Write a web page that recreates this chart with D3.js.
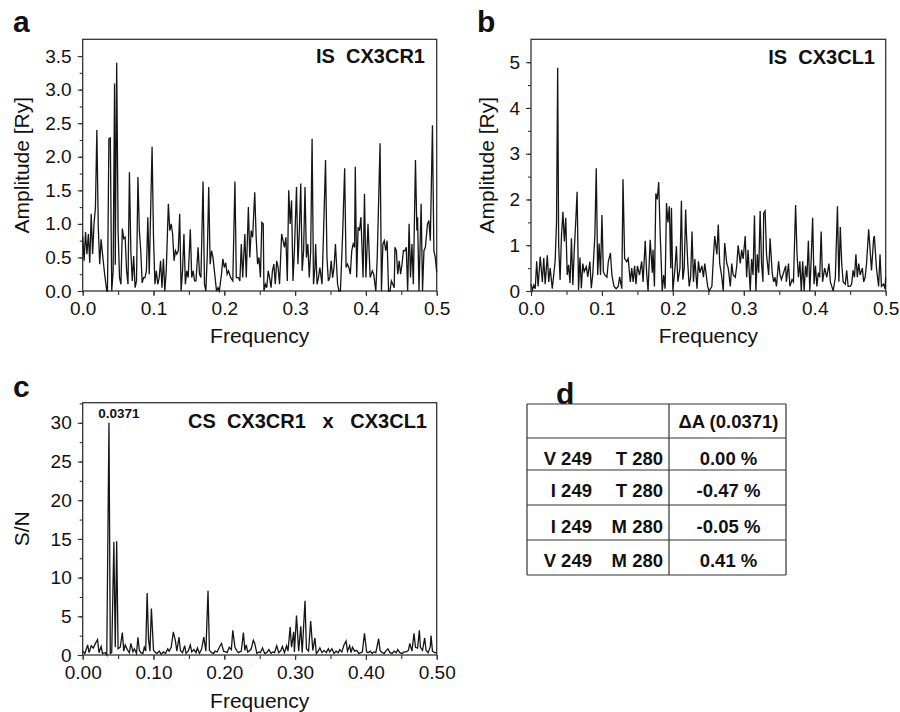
<!DOCTYPE html>
<html>
<head>
<meta charset="utf-8">
<script src="https://cdn.jsdelivr.net/npm/d3@7"></script>
<style>
  body { margin: 0; background: #fff; }
  text { font-family: "Liberation Sans", Arial, sans-serif; fill: #111; }
</style>
</head>
<body>
<script>
// panel a: IS CX3CR1 (frequency, amplitude)
var freqA = [
  0.000,0.002,0.004,0.006,0.008,0.010,0.012,0.014,0.016,0.018,
  0.020,0.022,0.024,0.026,0.028,0.031,0.034,0.035,0.037,0.039,
  0.041,0.043,0.045,0.046,0.048,0.050,0.052,0.054,0.056,0.058,
  0.060,0.062,0.064,0.066,0.068,0.070,0.072,0.074,0.076,0.078,
  0.080,0.082,0.084,0.086,0.088,0.090,0.092,0.094,0.096,0.098,
  0.100,0.102,0.104,0.106,0.108,0.110,0.112,0.114,0.116,0.118,
  0.121,0.123,0.125,0.127,0.129,0.131,0.133,0.135,0.137,0.139,
  0.141,0.143,0.145,0.147,0.149,0.152,0.154,0.156,0.158,0.160,
  0.163,0.165,0.167,0.170,0.172,0.174,0.176,0.178,0.180,0.182,
  0.184,0.186,0.189,0.191,0.193,0.196,0.198,0.200,0.202,0.204,
  0.206,0.209,0.212,0.215,0.217,0.220,0.222,0.224,0.226,0.229,
  0.231,0.234,0.236,0.238,0.240,0.243,0.245,0.247,0.249,0.251,
  0.253,0.255,0.256,0.258,0.260,0.262,0.264,0.266,0.268,0.270,
  0.272,0.274,0.276,0.278,0.281,0.283,0.285,0.287,0.289,0.291,
  0.293,0.295,0.297,0.299,0.302,0.304,0.306,0.308,0.310,0.312,
  0.314,0.316,0.318,0.320,0.322,0.324,0.326,0.328,0.329,0.331,
  0.333,0.335,0.338,0.340,0.343,0.345,0.347,0.349,0.351,0.353,
  0.355,0.357,0.360,0.362,0.364,0.367,0.370,0.372,0.374,0.376,
  0.378,0.380,0.382,0.384,0.385,0.387,0.389,0.391,0.393,0.396,
  0.398,0.400,0.403,0.406,0.409,0.411,0.414,0.416,0.420,0.422,
  0.424,0.426,0.428,0.430,0.432,0.434,0.436,0.438,0.440,0.441,
  0.443,0.445,0.447,0.449,0.451,0.453,0.455,0.457,0.459,0.461,
  0.463,0.465,0.467,0.470,0.472,0.473,0.475,0.478,0.480,0.482,
  0.484,0.487,0.489,0.491,0.494,0.496,0.498,0.500
];
var ampA = [
  0.81,0.45,0.88,0.55,0.85,0.42,1.15,0.55,1.00,1.25,
  2.40,0.95,0.40,0.77,0.55,0.25,0.00,0.00,2.27,2.28,
  0.00,0.30,3.09,0.39,3.40,0.90,0.20,0.10,0.93,0.78,
  0.80,0.30,0.10,1.77,0.60,0.15,0.52,0.05,0.15,1.70,
  0.90,0.60,0.12,0.20,0.20,0.30,1.10,0.25,1.20,2.15,
  0.80,0.10,0.30,0.10,0.20,0.45,0.05,0.48,0.00,0.30,
  1.30,0.90,1.00,0.85,0.45,0.60,0.55,0.60,1.15,0.00,
  0.30,0.85,0.10,0.30,0.20,0.92,0.20,0.30,0.15,0.15,
  0.65,0.25,0.20,1.63,0.10,0.00,0.55,1.55,0.40,0.60,
  0.50,0.30,0.00,0.05,0.00,0.25,0.48,0.35,0.42,0.25,
  0.30,0.20,0.15,1.63,0.20,0.20,0.15,0.70,0.20,0.85,
  0.20,1.25,0.50,0.90,0.80,1.47,0.80,0.40,0.50,0.20,
  1.02,1.00,0.00,0.10,0.05,0.30,0.20,0.05,0.30,0.40,
  0.10,0.45,0.35,0.10,0.85,0.75,0.65,0.80,0.15,1.50,
  1.00,1.35,0.15,0.60,1.55,0.40,0.90,1.60,0.30,0.60,
  1.55,0.50,0.70,0.20,0.60,2.27,0.10,0.35,0.70,0.10,
  0.20,0.35,0.10,0.80,1.95,0.50,0.15,0.20,0.45,0.20,
  0.35,0.70,0.10,0.00,0.00,0.80,1.83,0.35,0.40,0.35,
  0.25,0.60,0.70,0.65,1.85,0.20,0.95,0.90,1.10,0.20,
  1.45,0.20,1.00,0.20,0.30,0.25,0.00,0.50,2.20,0.00,
  0.70,0.75,0.60,0.75,0.00,0.00,0.15,0.10,0.05,0.65,
  0.60,0.25,0.45,0.25,0.40,0.60,0.60,0.65,0.00,1.00,
  0.20,0.70,0.10,1.95,0.90,1.10,0.00,1.30,0.00,0.60,
  0.65,1.00,1.05,0.75,2.47,0.60,0.50,0.28
];

// panel b: IS CX3CL1
var freqB = [
  0.000,0.002,0.004,0.006,0.008,0.010,0.013,0.016,0.018,0.020,
  0.023,0.025,0.027,0.030,0.032,0.034,0.036,0.0376,0.039,0.041,
  0.043,0.045,0.047,0.049,0.051,0.053,0.055,0.057,0.059,0.061,
  0.063,0.065,0.067,0.069,0.071,0.073,0.075,0.078,0.080,0.083,
  0.085,0.087,0.090,0.092,0.094,0.096,0.098,0.100,0.102,0.104,
  0.107,0.109,0.112,0.114,0.117,0.120,0.123,0.125,0.128,0.1297,
  0.132,0.135,0.137,0.140,0.142,0.144,0.146,0.148,0.150,0.153,
  0.156,0.158,0.161,0.163,0.165,0.168,0.171,0.172,0.174,0.176,
  0.178,0.180,0.182,0.185,0.187,0.189,0.191,0.193,0.195,0.197,
  0.198,0.200,0.203,0.205,0.207,0.210,0.212,0.214,0.216,0.218,
  0.219,0.221,0.223,0.225,0.227,0.229,0.231,0.234,0.236,0.238,
  0.241,0.243,0.245,0.249,0.251,0.255,0.257,0.259,0.262,0.264,
  0.266,0.269,0.271,0.273,0.276,0.278,0.281,0.283,0.285,0.288,
  0.290,0.292,0.295,0.297,0.299,0.302,0.304,0.306,0.309,0.311,
  0.313,0.315,0.317,0.319,0.321,0.323,0.325,0.327,0.328,0.330,
  0.332,0.335,0.337,0.340,0.342,0.344,0.346,0.349,0.351,0.353,
  0.356,0.359,0.360,0.363,0.365,0.368,0.370,0.373,0.375,0.377,
  0.379,0.381,0.383,0.385,0.387,0.389,0.391,0.393,0.395,0.397,
  0.399,0.401,0.403,0.405,0.407,0.409,0.411,0.414,0.417,0.420,
  0.422,0.424,0.426,0.429,0.432,0.434,0.436,0.438,0.440,0.443,
  0.445,0.447,0.450,0.452,0.454,0.456,0.458,0.460,0.462,0.464,
  0.467,0.469,0.471,0.473,0.476,0.478,0.480,0.483,0.484,0.487,
  0.490,0.492,0.494,0.497,0.499,0.500
];
var ampB = [
  0.15,0.02,0.13,0.05,0.65,0.10,0.75,0.20,0.72,0.15,
  0.78,0.20,0.50,0.05,0.35,0.65,1.50,4.88,1.00,0.24,
  1.22,1.73,1.08,1.60,0.35,0.57,0.17,1.15,0.13,0.90,
  1.50,2.17,0.02,0.73,0.06,0.60,0.42,0.53,0.31,0.64,
  0.06,0.35,1.20,2.68,0.35,1.04,0.35,1.66,0.42,0.35,
  0.30,0.64,0.83,0.35,0.10,0.05,0.10,0.31,0.05,2.44,
  0.71,0.64,0.71,0.20,0.50,0.20,0.55,0.15,0.55,0.35,
  0.65,0.20,1.10,0.40,0.00,1.12,0.40,0.90,0.10,2.13,
  2.00,2.38,1.30,0.00,0.35,0.05,1.92,1.50,1.85,0.50,
  1.82,0.00,0.50,0.98,0.20,0.50,1.97,0.25,0.50,1.78,
  1.30,0.60,0.10,0.30,1.30,0.20,0.70,0.05,0.65,0.40,
  0.55,0.30,0.60,0.10,0.00,0.10,0.70,1.20,0.80,1.45,
  0.60,0.30,0.00,1.05,0.60,0.50,0.10,0.60,0.35,0.30,
  0.55,1.00,0.60,0.90,0.70,1.20,0.30,0.90,0.00,0.70,
  0.35,1.65,0.00,0.80,0.40,1.75,0.60,0.20,1.70,1.75,
  0.80,0.35,1.15,0.40,0.20,0.30,0.10,0.65,0.35,0.25,
  0.40,0.55,0.20,0.60,0.10,0.25,0.20,1.88,0.80,0.30,
  0.65,0.00,0.65,0.00,0.55,0.30,1.10,0.00,0.70,1.60,
  0.15,0.55,0.10,0.40,0.30,1.30,0.20,0.50,0.30,0.60,
  0.20,0.10,0.00,0.30,1.85,0.20,1.40,0.60,0.20,0.15,
  0.45,0.10,0.10,0.15,0.45,0.30,0.80,0.30,0.60,0.35,
  0.50,0.20,0.30,0.60,1.35,0.90,0.45,1.15,1.20,0.50,
  0.10,0.80,0.10,0.15,0.05,0.30
];

// panel c: CS CX3CR1 x CX3CL1 (signal to noise)
var freqC = [
  0.000,0.003,0.007,0.009,0.012,0.015,0.018,0.021,0.023,0.026,
  0.028,0.032,0.034,0.0371,0.039,0.041,0.044,0.046,0.048,0.050,
  0.053,0.056,0.058,0.060,0.063,0.066,0.068,0.071,0.073,0.076,
  0.078,0.080,0.082,0.085,0.087,0.089,0.091,0.093,0.095,0.097,
  0.100,0.103,0.105,0.108,0.111,0.114,0.117,0.120,0.122,0.125,
  0.128,0.131,0.133,0.136,0.138,0.141,0.144,0.146,0.149,0.152,
  0.154,0.157,0.160,0.162,0.165,0.168,0.171,0.174,0.177,0.179,
  0.182,0.185,0.187,0.190,0.193,0.196,0.199,0.202,0.204,0.207,
  0.210,0.212,0.215,0.218,0.220,0.224,0.227,0.229,0.231,0.233,
  0.235,0.238,0.241,0.243,0.246,0.249,0.251,0.254,0.257,0.260,
  0.263,0.266,0.268,0.271,0.274,0.277,0.280,0.282,0.285,0.288,
  0.290,0.293,0.295,0.298,0.299,0.302,0.305,0.308,0.310,0.314,
  0.316,0.319,0.322,0.325,0.328,0.330,0.332,0.335,0.338,0.341,
  0.344,0.347,0.349,0.352,0.355,0.358,0.361,0.363,0.366,0.369,
  0.372,0.374,0.377,0.379,0.381,0.384,0.387,0.390,0.393,0.395,
  0.398,0.401,0.403,0.406,0.409,0.411,0.414,0.418,0.420,0.423,
  0.426,0.428,0.431,0.434,0.437,0.440,0.443,0.445,0.448,0.451,
  0.454,0.457,0.460,0.462,0.465,0.468,0.470,0.473,0.4755,0.477,
  0.480,0.483,0.485,0.488,0.491,0.492,0.494,0.497,0.500
];
var snC = [
  0.5,0.2,1.3,0.3,1.2,0.9,1.5,2.0,0.3,1.1,
  0.2,0.3,0.0,30.0,0.2,0.3,14.6,1.0,14.7,0.8,
  1.0,2.9,0.5,1.3,0.7,0.3,1.5,0.4,0.8,0.2,
  2.3,0.6,0.3,0.2,1.0,0.5,8.0,2.0,0.5,6.0,
  0.6,0.3,0.2,0.5,0.1,0.4,0.2,0.8,0.5,1.0,
  3.0,1.8,0.5,2.3,0.6,0.3,1.2,0.2,0.5,1.3,
  0.4,0.7,0.3,0.9,0.2,0.8,2.3,0.5,8.3,0.6,
  0.3,0.2,0.5,0.4,1.0,1.5,0.5,0.4,0.3,1.0,
  0.7,3.2,1.0,0.5,0.3,0.5,2.9,0.6,1.3,0.4,
  0.5,0.8,1.9,1.5,0.2,0.4,0.3,0.9,0.2,0.3,
  0.7,0.2,0.4,0.3,1.2,0.3,0.6,1.1,0.3,1.2,
  0.5,3.6,1.0,3.0,0.4,5.1,0.5,3.7,0.3,7.0,
  0.8,0.5,4.4,0.6,2.2,0.2,0.4,0.9,0.3,0.6,
  0.3,0.8,0.4,0.8,0.2,0.5,0.3,0.7,0.4,1.3,
  1.8,0.5,1.2,0.3,1.0,0.5,0.6,0.2,0.3,0.4,
  2.8,0.4,0.3,0.5,0.2,0.4,0.3,2.1,0.6,0.3,
  0.2,0.5,0.8,0.3,0.2,0.5,0.3,0.7,0.3,0.2,
  0.4,0.4,0.6,1.5,0.5,2.8,1.0,0.9,3.2,1.0,
  0.6,2.2,0.6,0.3,1.1,2.5,0.5,0.3,0.3
];
var peakLabel = "0.0371";

// tick values
var xTicksAB = [0, 0.1, 0.2, 0.3, 0.4, 0.5];
var yTicksA = [0, 0.5, 1.0, 1.5, 2.0, 2.5, 3.0, 3.5];
var yTicksB = [0, 1, 2, 3, 4, 5];
var yTicksC = [0, 5, 10, 15, 20, 25, 30];

// table d
var tableHeader = "\u0394A (0.0371)";
var tableRes249 = ["V 249", "I 249", "I 249", "V 249"];
var tableRes280 = ["T 280", "T 280", "M 280", "M 280"];
var tableDelta = ["0.00 %", "-0.47 %", "-0.05 %", "0.41 %"];

var width = 900, height = 712;
var font = '"Liberation Sans", Arial, sans-serif';

var svg = d3.select('body').append('svg')
  .attr('width', width)
  .attr('height', height);

function drawPanel(p) {
  var x = d3.scaleLinear().domain([0, 0.5]).range([p.left, p.right]);
  var y = d3.scaleLinear().domain([0, p.yMax]).range([p.bottom, p.top]);
  var g = svg.append('g');

  // minor ticks first, then major with labels
  var xMinor = d3.range(0, 0.5001, 0.05);
  g.append('g')
    .attr('transform', 'translate(0,' + p.bottom + ')')
    .call(d3.axisBottom(x).tickValues(xMinor).tickSize(4).tickFormat(''));
  g.append('g')
    .attr('transform', 'translate(0,' + p.bottom + ')')
    .call(d3.axisBottom(x).tickValues(p.xTicks).tickSize(5).tickPadding(6).tickFormat(d3.format(p.xFmt)));

  g.append('g')
    .attr('transform', 'translate(' + p.left + ',0)')
    .call(d3.axisLeft(y).tickValues(d3.range(0, p.yMax, p.yMinor)).tickSize(3).tickFormat(''));
  g.append('g')
    .attr('transform', 'translate(' + p.left + ',0)')
    .call(d3.axisLeft(y).tickValues(p.yTicks).tickSize(5).tickPadding(6).tickFormat(d3.format(p.yFmt)));

  g.selectAll('.domain').remove();
  g.selectAll('.tick line').attr('stroke', '#333').attr('stroke-width', 1.1);
  g.selectAll('.tick text')
    .attr('fill', '#222')
    .style('font-family', font)
    .style('font-size', '19px');

  // frame
  g.append('rect')
    .attr('x', p.left).attr('y', p.top)
    .attr('width', p.right - p.left).attr('height', p.bottom - p.top)
    .attr('fill', 'none').attr('stroke', '#333').attr('stroke-width', 1.3);

  var line = d3.line()
    .x(function(d) { return x(d[0]); })
    .y(function(d) { return y(d[1]); });

  g.append('path')
    .datum(d3.zip(p.freq, p.vals))
    .attr('d', line)
    .attr('fill', 'none')
    .attr('stroke', '#151515')
    .attr('stroke-width', 1.3)
    .attr('stroke-linejoin', 'miter');

  g.append('text')
    .attr('x', p.titleX).attr('y', p.titleY)
    .attr('text-anchor', 'end')
    .style('font-size', '20px').style('font-weight', 'bold')
    .style('white-space', 'pre')
    .text(p.title);

  g.append('text')
    .attr('x', (p.left + p.right) / 2).attr('y', p.xLabelY)
    .attr('text-anchor', 'middle')
    .style('font-size', '21px').attr('fill', '#222')
    .text('Frequency');

  g.append('text')
    .attr('transform', 'translate(' + p.yLabelX + ',' + (p.top + p.bottom) / 2 + ') rotate(-90)')
    .attr('text-anchor', 'middle')
    .style('font-size', '21px').attr('fill', '#222')
    .text(p.yLabel);

  g.append('text')
    .attr('x', p.letterX).attr('y', p.letterY)
    .style('font-size', '30px').style('font-weight', 'bold')
    .text(p.letter);

  return { x: x, y: y, g: g };
}

drawPanel({
  left: 82.7, right: 436.7, top: 39.3, bottom: 291, yMax: 3.75,
  freq: freqA, vals: ampA, xTicks: xTicksAB, xFmt: '.1f',
  yTicks: yTicksA, yMinor: 0.25, yFmt: '.1f',
  title: 'IS  CX3CR1', titleX: 425, titleY: 63,
  xLabelY: 343, yLabel: 'Amplitude [Ry]', yLabelX: 29,
  letter: 'a', letterX: 13, letterY: 32
});

drawPanel({
  left: 531, right: 885.7, top: 39.3, bottom: 291, yMax: 5.5,
  freq: freqB, vals: ampB, xTicks: xTicksAB, xFmt: '.1f',
  yTicks: yTicksB, yMinor: 0.5, yFmt: 'd',
  title: 'IS  CX3CL1', titleX: 875, titleY: 64,
  xLabelY: 343, yLabel: 'Amplitude [Ry]', yLabelX: 494,
  letter: 'b', letterX: 477, letterY: 32
});

var pc = drawPanel({
  left: 82.7, right: 436.7, top: 402.7, bottom: 655, yMax: 32.6,
  freq: freqC, vals: snC, xTicks: xTicksAB, xFmt: '.2f',
  yTicks: yTicksC, yMinor: 2.5, yFmt: 'd',
  title: 'CS  CX3CR1   x   CX3CL1', titleX: 427, titleY: 428,
  xLabelY: 708, yLabel: 'S/N', yLabelX: 29,
  letter: 'c', letterX: 13, letterY: 397
});

// peak annotation
pc.g.append('text')
  .attr('x', pc.x(+peakLabel) + 10)
  .attr('y', 418)
  .attr('text-anchor', 'middle')
  .style('font-size', '13.5px').style('font-weight', 'bold')
  .text(peakLabel);

// panel d: table
var tbl = svg.append('g');
var tLeft = 527, tMid = 669, tRight = 786;
var rowLines = [404, 438, 470, 505, 540, 575];

tbl.append('text')
  .attr('x', 556).attr('y', 404)
  .style('font-size', '30px').style('font-weight', 'bold')
  .text('d');

tbl.selectAll('line.h')
  .data(rowLines)
  .enter().append('line')
  .attr('x1', tLeft).attr('x2', tRight)
  .attr('y1', function(d) { return d; }).attr('y2', function(d) { return d; })
  .attr('stroke', '#333').attr('stroke-width', 1.2);

tbl.selectAll('line.v')
  .data([tLeft, tMid, tRight])
  .enter().append('line')
  .attr('x1', function(d) { return d; }).attr('x2', function(d) { return d; })
  .attr('y1', rowLines[0]).attr('y2', rowLines[rowLines.length - 1])
  .attr('stroke', '#333').attr('stroke-width', 1.2);

tbl.append('text')
  .attr('x', (tMid + tRight) / 2 + 1).attr('y', 428)
  .attr('text-anchor', 'middle')
  .style('font-size', '18.5px').style('font-weight', 'bold')
  .text(tableHeader);

var rowBase = [465, 497, 533, 567];
tableRes249.forEach(function(t, i) {
  tbl.append('text').attr('x', 592).attr('y', rowBase[i])
    .attr('text-anchor', 'end')
    .style('font-size', '18.5px').style('font-weight', 'bold')
    .text(t);
  tbl.append('text').attr('x', 663).attr('y', rowBase[i])
    .attr('text-anchor', 'end')
    .style('font-size', '18.5px').style('font-weight', 'bold')
    .text(tableRes280[i]);
  tbl.append('text').attr('x', (tMid + tRight) / 2 + 1).attr('y', rowBase[i])
    .attr('text-anchor', 'middle')
    .style('font-size', '18.5px').style('font-weight', 'bold')
    .text(tableDelta[i]);
});
</script>
</body>
</html>
